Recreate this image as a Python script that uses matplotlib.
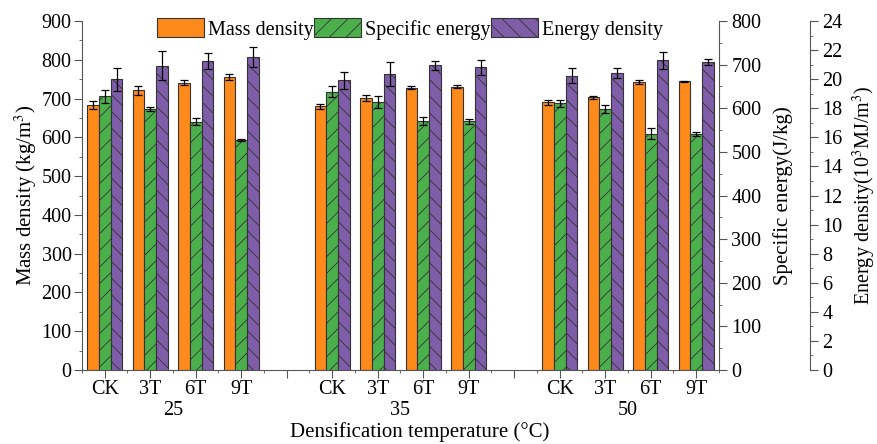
import matplotlib
matplotlib.use('Agg')
from matplotlib import pyplot as plt
from matplotlib.ticker import MultipleLocator

plt.rcParams['font.family'] = ['Liberation Serif', 'DejaVu Serif']
plt.rcParams['mathtext.fontset'] = 'stix'
plt.rcParams['hatch.linewidth'] = 0.6
plt.rcParams['font.size'] = 14

# data
groups = ['25', '35', '50']
treatments = ['CK', '3T', '6T', '9T']
mass = [683, 721, 741, 756, 680, 701, 728, 730, 691, 703, 742, 745]
mass_err = [9.5, 11, 6.5, 7, 6.4, 8.2, 3.4, 3.9, 6.4, 3.9, 5.6, 1.3]
spec = [627, 598, 569, 527, 638, 615, 570, 570, 611, 598, 542, 542]
spec_err = [14, 4, 8, 3, 13, 14, 9, 5, 8, 10, 12, 4.6]
energy = [20.0, 20.93, 21.25, 21.5, 19.92, 20.35, 20.95, 20.81, 20.24, 20.42, 21.3, 21.18]
energy_err = [0.8, 0.98, 0.54, 0.69, 0.57, 0.8, 0.31, 0.5, 0.52, 0.33, 0.6, 0.18]

# positions: 4 treatments per group, one empty slot between groups
pos = []
for g in range(len(groups)):
    for t in range(len(treatments)):
        pos.append(g * (len(treatments) + 1) + t)

c_orange = '#FF8A1C'
c_green = '#4BB04B'
c_purple = '#7F5DA8'
edge = '#333333'
spine_c = '#555555'
w = 0.26
tick_fs = 14.5
label_fs = 15

fig = plt.figure(figsize=(8.78, 4.44), dpi=100)
ax = fig.add_axes([82/878, 1-370/444, (719-82)/878, (370-21)/444])
ax2 = ax.twinx()
ax3 = ax.twinx()
ax3.spines['right'].set_position(('axes', 728/637))

ekw = dict(ecolor='black', elinewidth=0.9, capsize=3, capthick=0.9)
b1 = ax.bar([p - w for p in pos], mass, w, yerr=mass_err, color=c_orange,
            edgecolor=edge, linewidth=0.8, error_kw=ekw, label='Mass density')
b2 = ax2.bar(pos, spec, w, yerr=spec_err, color=c_green, edgecolor=edge,
             linewidth=0.8, hatch='//', error_kw=ekw, label='Specific energy')
b3 = ax3.bar([p + w for p in pos], energy, w, yerr=energy_err, color=c_purple,
             edgecolor=edge, linewidth=0.8, hatch='\\\\', error_kw=ekw, label='Energy density')

ax.set_xlim(-0.5, pos[-1] + 0.5)
ax.set_ylim(0, 900)
ax2.set_ylim(0, 800)
ax3.set_ylim(0, 24)

ax.yaxis.set_major_locator(MultipleLocator(100))
ax.yaxis.set_minor_locator(MultipleLocator(50))
ax2.yaxis.set_major_locator(MultipleLocator(100))
ax2.yaxis.set_minor_locator(MultipleLocator(50))
ax3.yaxis.set_major_locator(MultipleLocator(2))
ax3.yaxis.set_minor_locator(MultipleLocator(1))

ticks = list(range(pos[-1] + 1))
labels = []
for t in ticks:
    labels.append(treatments[t % 5] if t % 5 < 4 else '')
ax.set_xticks(ticks)
ax.set_xticklabels(labels)
ax.xaxis.set_minor_locator(MultipleLocator(0.5))

for a in (ax, ax2, ax3):
    a.spines['top'].set_visible(False)
    for s in a.spines.values():
        s.set_color(spine_c)
    a.tick_params(which='major', length=5.5, color=spine_c, labelsize=tick_fs)
    a.tick_params(which='minor', length=2.5, color=spine_c)
ax.spines['right'].set_visible(False)
ax2.spines['left'].set_visible(False)
ax3.spines['left'].set_visible(False)
ax2.spines['bottom'].set_visible(False)
ax3.spines['bottom'].set_visible(False)
ax.tick_params(axis='x', pad=2)
ax.tick_params(axis='y', pad=2)

for g, name in enumerate(groups):
    centre = g * 5 + 1.5
    ax.text(centre, -0.115, name, transform=ax.get_xaxis_transform(),
            ha='center', va='center', fontsize=tick_fs)

ax.set_xlabel('Densification temperature (°C)', fontsize=label_fs)
ax.xaxis.set_label_coords((420 - 82) / 637, -0.15)
ax.set_ylabel('Mass density (kg/m$^3$)', fontsize=label_fs, labelpad=2)
ax2.set_ylabel('Specific energy(J/kg)', fontsize=label_fs, labelpad=8)
ax3.set_ylabel('Energy density(10$^3$MJ/m$^3$)', fontsize=14.5, labelpad=6)

ax3.legend(handles=[b1, b2, b3], loc='upper center', ncol=3, frameon=False,
           bbox_to_anchor=(410/878, 1-18/444), bbox_transform=fig.transFigure,
           handlelength=2.3, handleheight=1.1, handletextpad=0.2,
           columnspacing=0.05, fontsize=14.5, borderaxespad=0, borderpad=0)

fig.savefig('out.png', dpi=100)
